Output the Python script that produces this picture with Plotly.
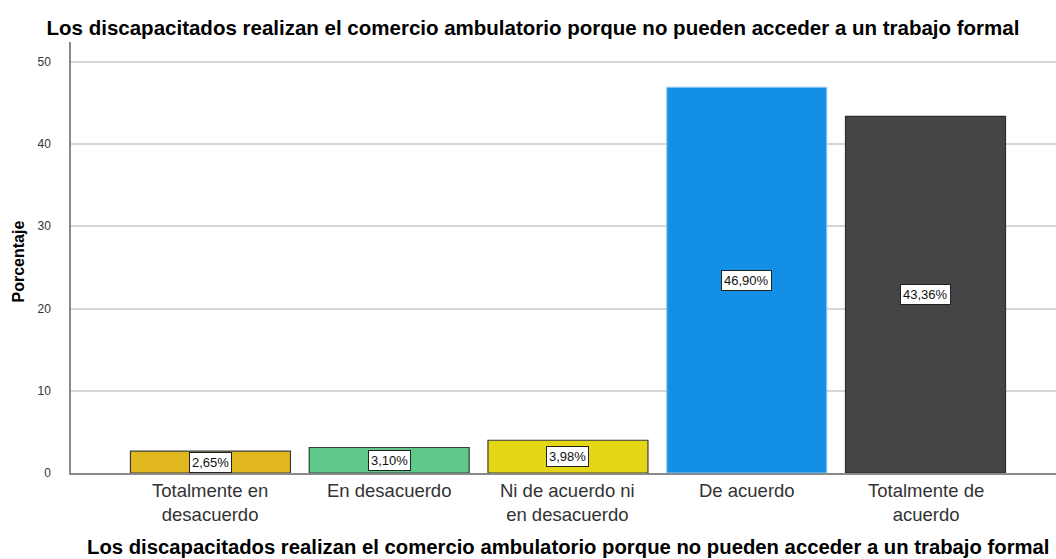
import plotly.graph_objects as go

categories = ["Totalmente en<br>desacuerdo", "En desacuerdo", "Ni de acuerdo ni<br>en desacuerdo", "De acuerdo", "Totalmente de<br>acuerdo"]
values = [2.65, 3.10, 3.98, 46.90, 43.36]
labels = ["2,65%", "3,10%", "3,98%", "46,90%", "43,36%"]
colors = ["#E1B91F", "#5EC98B", "#E5D715", "#1390E6", "#454547"]
borders = ["#3a3a3a", "#3a3a3a", "#3a3a3a", "#8cc8f5", "#2e2e2e"]
yticks = [0, 10, 20, 30, 40, 50]

title_text = "Los discapacitados realizan el comercio ambulatorio porque no pueden acceder a un trabajo formal"
y_title = "Porcentaje"

FONT = "Liberation Sans, Arial"

fig = go.Figure()
fig.add_trace(go.Bar(
    x=list(range(len(categories))), y=values,
    marker=dict(color=colors, line=dict(color=borders, width=1.2)),
    width=0.895, hoverinfo="skip",
))

# value labels in white boxes at mid-height of each bar
for i, (v, t) in enumerate(zip(values, labels)):
    fig.add_annotation(x=i, y=v / 2, text=t, showarrow=False,
                       font=dict(family=FONT, size=13, color="#111"),
                       bgcolor="white", bordercolor="#222", borderwidth=1, borderpad=2)

# category labels
for i, c in enumerate(categories):
    fig.add_annotation(x=i, xref="x", y=0, yref="paper", text=c, showarrow=False,
                       yanchor="top", yshift=-5, align="center",
                       font=dict(family=FONT, size=18.5, color="#333"))

# axis titles
fig.add_annotation(x=0.5, xref="paper", y=0, yref="paper", text="<b>" + title_text + "</b>",
                   showarrow=False, yanchor="middle", yshift=-74, xshift=4,
                   font=dict(family=FONT, size=20.3, color="#000"))
fig.add_annotation(x=0, xref="paper", y=0.5, yref="paper", text="<b>" + y_title + "</b>",
                   showarrow=False, textangle=-90, xanchor="center", xshift=-53, yshift=-4,
                   font=dict(family=FONT, size=16, color="#000"))

fig.update_layout(
    width=1056, height=559,
    margin=dict(l=71, r=0, t=42, b=86, autoexpand=False),
    paper_bgcolor="white", plot_bgcolor="white",
    showlegend=False,
    font=dict(family=FONT, color="#222"),
    title=dict(text="<b>" + title_text + "</b>", x=533 / 1056, xanchor="center", xref="container",
               y=1 - 28 / 559, yref="container", yanchor="middle",
               font=dict(family=FONT, size=20.5, color="#000")),
    xaxis=dict(
        range=[-0.78, 4.73], showticklabels=False,
        showgrid=False, showline=True, linecolor="#8a8a8a", linewidth=1.5, ticks="",
        zeroline=False, automargin=False,
    ),
    yaxis=dict(
        range=[0, 52.4], tickvals=yticks, showgrid=True, gridcolor="#d6d6d6", gridwidth=1.5,
        showline=True, linecolor="#8a8a8a", linewidth=1.5, ticks="", ticklabelstandoff=16,
        tickfont=dict(family=FONT, size=12, color="#333"), zeroline=False, automargin=False,
    ),
)

fig.write_html("out.html", config={"displayModeBar": False},
               post_script="document.body.style.margin='0';document.body.style.padding='0';")
